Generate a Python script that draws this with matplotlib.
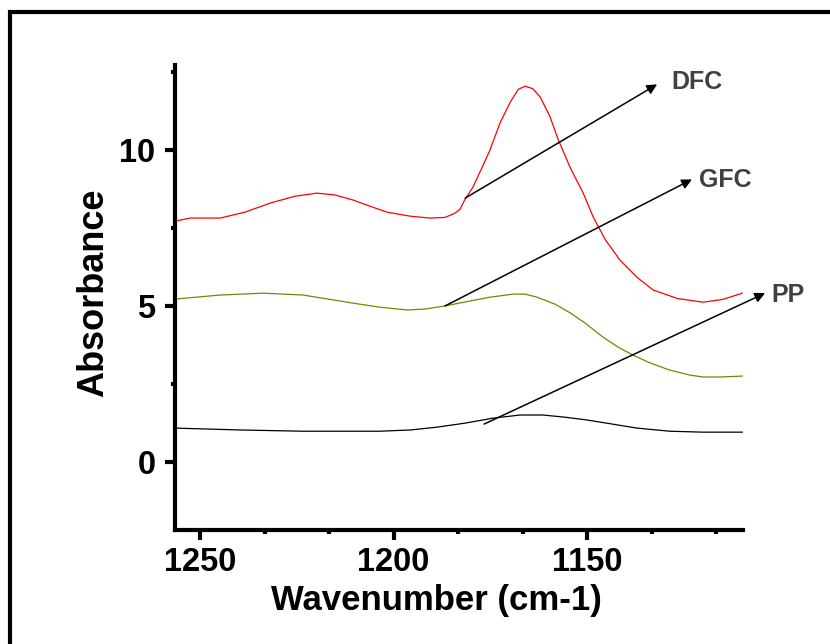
import matplotlib.pyplot as plt
from matplotlib.ticker import MultipleLocator
from matplotlib.patches import Rectangle

plt.rcParams['font.family'] = ['Liberation Sans', 'DejaVu Sans']

RED = '#ff0000'
OLIVE = '#808000'
TEXT_GRAY = '#404040'

# DFC spectrum (red)
dfc_x = [1256.5, 1252.6, 1244.8, 1238.4, 1231.9, 1225.5, 1219.8, 1215.1, 1210.5, 1206.1,
         1201.7, 1195.7, 1190.6, 1186.7, 1184.1, 1182.8, 1181.5, 1179.5, 1177.3, 1175.1,
         1172.5, 1169.9, 1167.8, 1166.0, 1164.0, 1162.1, 1159.6, 1157.5, 1154.4, 1151.0,
         1148.4, 1145.3, 1141.5, 1137.1, 1132.9, 1126.7, 1120.0, 1114.9, 1109.9]
dfc_y = [7.72, 7.82, 7.82, 8.01, 8.30, 8.52, 8.62, 8.56, 8.40, 8.20,
         8.01, 7.88, 7.82, 7.84, 7.98, 8.11, 8.43, 8.81, 9.40, 10.00,
         10.87, 11.53, 11.95, 12.05, 11.97, 11.70, 11.08, 10.35, 9.45, 8.62,
         7.85, 7.13, 6.47, 5.92, 5.51, 5.24, 5.12, 5.21, 5.41]

# GFC spectrum (olive)
gfc_x = [1256.5, 1244.8, 1233.7, 1223.4, 1210.5, 1203.5, 1196.5, 1191.9, 1186.7, 1180.2,
         1175.1, 1169.1, 1166.0, 1162.9, 1158.3, 1154.4, 1150.5, 1145.9, 1142.0, 1138.1,
         1133.7, 1128.6, 1123.4, 1120.0, 1115.6, 1109.9]
gfc_y = [5.22, 5.35, 5.41, 5.35, 5.09, 4.96, 4.87, 4.90, 5.00, 5.16,
         5.28, 5.38, 5.38, 5.28, 5.06, 4.78, 4.45, 4.00, 3.68, 3.42,
         3.17, 2.94, 2.78, 2.72, 2.72, 2.75]

# PP spectrum (black)
pp_x = [1256.5, 1239.7, 1223.4, 1203.5, 1195.7, 1188.8, 1181.5, 1174.3, 1167.3, 1161.4,
        1155.7, 1150.0, 1143.5, 1137.1, 1128.6, 1120.0, 1109.9]
pp_y = [1.08, 1.02, 0.98, 0.98, 1.02, 1.11, 1.24, 1.40, 1.50, 1.50,
        1.43, 1.34, 1.21, 1.08, 0.98, 0.95, 0.95]

# labels: (text, arrow start, arrow tip, text position)
labels = ['DFC', 'GFC', 'PP']
arrow_start = [(1181.5, 8.46), (1186.7, 5.0), (1176.6, 1.21)]
arrow_tip = [(1131.9, 12.11), (1122.9, 9.06), (1104.0, 5.41)]
text_pos = [(1128.3, 12.18), (1121.0, 9.03), (1102.4, 5.34)]

fig = plt.figure(figsize=(8.3, 6.44), dpi=100, facecolor='white')
ax = fig.add_axes([0.2108, 0.177, 0.6844, 0.722])

ax.plot(dfc_x, dfc_y, color=RED, lw=0.9)
ax.plot(gfc_x, gfc_y, color=OLIVE, lw=0.9)
ax.plot(pp_x, pp_y, color='black', lw=0.9)

for lab, s, t, p in zip(labels, arrow_start, arrow_tip, text_pos):
    ax.annotate('', xy=t, xytext=s, annotation_clip=False,
                arrowprops=dict(arrowstyle='-|>', color='black', lw=1.1,
                                mutation_scale=15, shrinkA=0, shrinkB=0))
    ax.text(p[0], p[1], lab, color=TEXT_GRAY, fontsize=18, fontweight='bold',
            ha='left', va='center', clip_on=False)

ax.set_xlim(1256.5, 1109.7)
ax.set_ylim(-2.19, 12.73)

ax.xaxis.set_major_locator(MultipleLocator(50))
ax.xaxis.set_minor_locator(MultipleLocator(50 / 3))
ax.yaxis.set_major_locator(MultipleLocator(5))
ax.yaxis.set_minor_locator(MultipleLocator(2.5))

for side in ['top', 'right']:
    ax.spines[side].set_visible(False)
for side in ['left', 'bottom']:
    ax.spines[side].set_linewidth(3)

ax.tick_params(which='major', length=7, width=3, direction='out', labelsize=23.5)
ax.tick_params(axis='x', which='major', pad=5)
ax.tick_params(axis='y', which='major', pad=7)
ax.tick_params(which='minor', length=3, width=3, direction='out')
for lbl in ax.get_xticklabels() + ax.get_yticklabels():
    lbl.set_fontweight('bold')

ax.set_xlabel('Wavenumber (cm-1)', fontsize=25, fontweight='bold')
ax.set_ylabel('Absorbance', fontsize=26, fontweight='bold')
ax.xaxis.set_label_coords(0.461, -0.117)
ax.yaxis.set_label_coords(-0.113, 0.51)

# partial outer frame (left and top edges visible)
fig.add_artist(Rectangle((0.012, -0.2), 1.2, 1.182, transform=fig.transFigure,
                         fill=False, edgecolor='black', lw=3))

fig.savefig('out.png', dpi=100, facecolor='white')
